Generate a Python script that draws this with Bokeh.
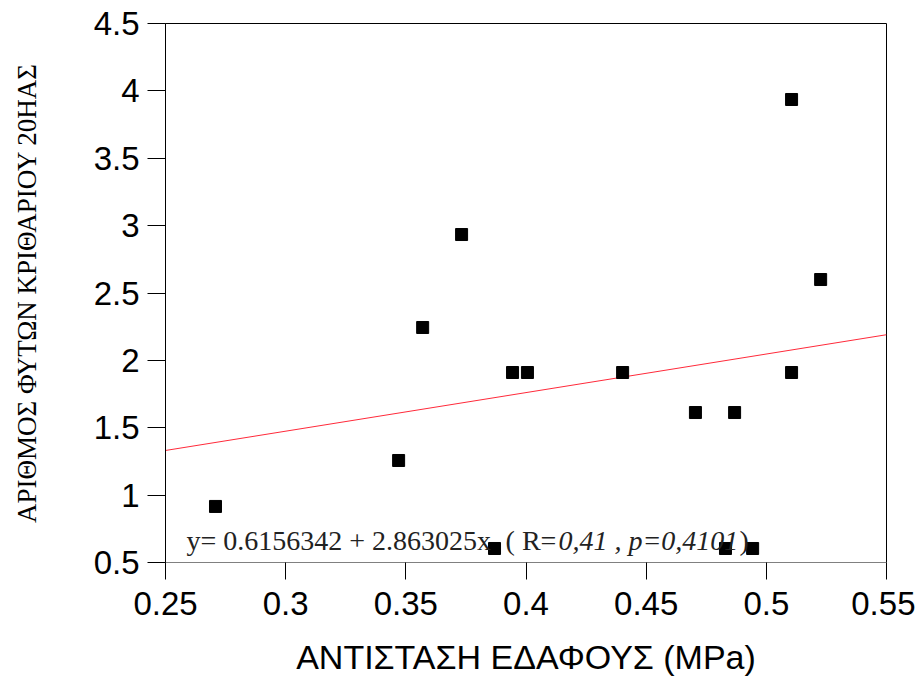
from bokeh.plotting import figure
from bokeh.models import Range1d, FixedTicker, Label, ColumnDataSource
from bokeh.embed import file_html
from bokeh.resources import INLINE

# ---- data ----
soil_resistance = [0.2708, 0.347, 0.357, 0.3732, 0.3869, 0.3944, 0.4006, 0.4402,
                   0.4705, 0.4868, 0.483, 0.4943, 0.5105, 0.5105, 0.5226]
plant_count = [0.916, 1.257, 2.244, 2.934, 0.604, 1.91, 1.91, 1.91,
               1.613, 1.613, 0.604, 0.604, 3.936, 1.91, 2.6]
fit_intercept = 0.6156342
fit_slope = 2.863025
x_ticks = [0.25, 0.3, 0.35, 0.4, 0.45, 0.5, 0.55]
x_tick_labels = ["0.25", "0.3", "0.35", "0.4", "0.45", "0.5", "0.55"]
y_ticks = [0.5, 1, 1.5, 2, 2.5, 3, 3.5, 4, 4.5]
y_tick_labels = ["0.5", "1", "1.5", "2", "2.5", "3", "3.5", "4", "4.5"]
x_title = "ΑΝΤΙΣΤΑΣΗ ΕΔΑΦΟΥΣ (MPa)"
y_title = "ΑΡΙΘΜΟΣ ΦΥΤΩΝ ΚΡΙΘΑΡΙΟΥ 20ΗΑΣ"
eq_text = "y= 0.6156342 + 2.863025x"
open_text = "( R="
stat_text = "0,41 , p=0,4101"
close_text = ")"

x_min, x_max = 0.25, 0.55
y_min, y_max = 0.5, 4.5

p = figure(width=915, height=678, output_backend="svg", toolbar_location=None,
           x_range=Range1d(x_min, x_max), y_range=Range1d(y_min, y_max),
           min_border_left=165, min_border_right=29, min_border_top=23,
           min_border_bottom=116)
p.background_fill_color = "white"
p.border_fill_color = "white"
p.outline_line_color = "black"
p.outline_line_width = 1
p.grid.visible = False

for ax in (p.xaxis[0], p.yaxis[0]):
    ax.major_tick_in = 0
    ax.minor_tick_line_color = None
    ax.major_tick_line_color = "black"
    ax.axis_line_color = "black"
    ax.major_label_text_font = "Liberation Sans"
    ax.major_label_text_font_size = "33px"
    ax.major_label_text_color = "black"
    ax.axis_label_text_color = "black"
    ax.axis_label_text_font_style = "normal"

p.xaxis.ticker = FixedTicker(ticks=x_ticks)
p.xaxis.major_label_overrides = {t: l for t, l in zip(x_ticks, x_tick_labels)}
p.xaxis.major_tick_out = 17
p.xaxis.major_label_standoff = 12
p.xaxis.axis_label = x_title
p.xaxis.axis_label_text_font = "Liberation Sans"
p.xaxis.axis_label_text_font_size = "34px"
p.xaxis.axis_label_standoff = 20
p.xaxis.axis_line_color = "#808080"

p.yaxis.ticker = FixedTicker(ticks=y_ticks)
p.yaxis.major_label_overrides = {t: l for t, l in zip(y_ticks, y_tick_labels)}
p.yaxis.major_tick_out = 18
p.yaxis.major_label_standoff = 8
p.yaxis.axis_label = y_title
p.yaxis.axis_label_text_font = "Liberation Serif"
p.yaxis.axis_label_text_font_size = "27px"
p.yaxis.axis_label_standoff = 49

# regression line
line_x = [x_min, x_max]
line_y = [fit_intercept + fit_slope * v for v in line_x]
p.line(line_x, line_y, line_color="#ff2a3a", line_width=1)

# points
src = ColumnDataSource(dict(x=soil_resistance, y=plant_count))
p.scatter("x", "y", source=src, marker="square", size=12,
          fill_color="black", line_color="black")

# annotation
base_y = 0.663
common = dict(y=base_y, text_font="Liberation Serif", text_font_size="28px",
              text_color="#222222", text_baseline="alphabetic", text_align="left")
p.add_layout(Label(x=0.2587, text=eq_text, text_font_style="normal", **common))
p.add_layout(Label(x=0.3915, text=open_text, text_font_style="normal", **common))
p.add_layout(Label(x=0.4135, text=stat_text, text_font_style="italic", **common))
p.add_layout(Label(x=0.4888, text=close_text, text_font_style="normal", **common))

open("out.html", "w").write(file_html(p, INLINE))
